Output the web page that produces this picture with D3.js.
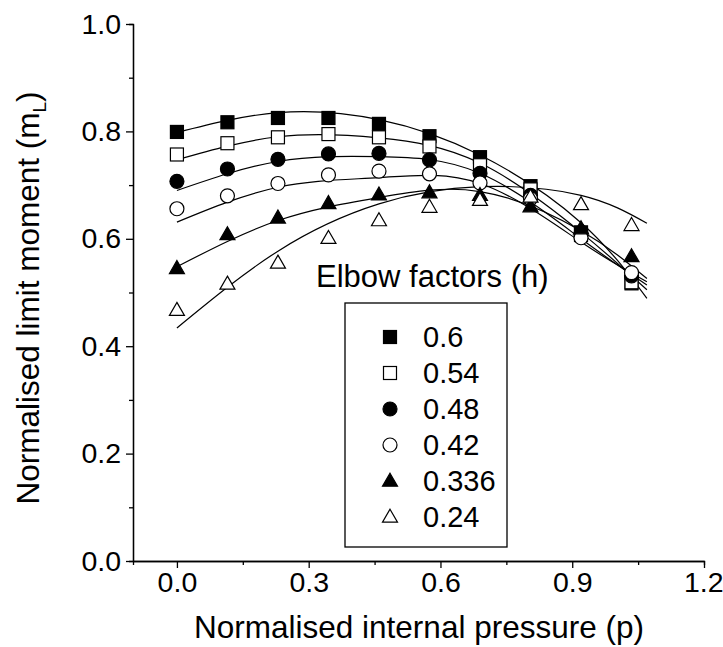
<!DOCTYPE html>
<html>
<head>
<meta charset="utf-8">
<script src="https://cdn.jsdelivr.net/npm/d3@7"></script>
<style>
  html, body { margin: 0; padding: 0; background: #fff; }
  svg { display: block; }
  text { font-family: "Liberation Sans", Arial, sans-serif; fill: #000; }
</style>
</head>
<body>
<svg id="chart" width="723" height="647"></svg>
<script>
// ---- data ----
const pressure = [0, 0.115, 0.23, 0.345, 0.46, 0.575, 0.69, 0.805, 0.92, 1.035];
const elbowFactors = ["0.6", "0.54", "0.48", "0.42", "0.336", "0.24"];
const markers = ["squareFilled", "squareOpen", "circleFilled", "circleOpen", "triangleFilled", "triangleOpen"];
const m060  = [0.799, 0.817, 0.825, 0.825, 0.814, 0.791, 0.752, 0.698, 0.612, 0.517];
const m054  = [0.757, 0.778, 0.789, 0.795, 0.789, 0.772, 0.737, 0.692, 0.607, 0.519];
const m048  = [0.707, 0.730, 0.748, 0.758, 0.759, 0.747, 0.722, 0.681, 0.610, 0.531];
const m042  = [0.656, 0.680, 0.703, 0.719, 0.726, 0.721, 0.704, 0.675, 0.602, 0.537];
const m0336 = [0.545, 0.608, 0.639, 0.666, 0.682, 0.686, 0.681, 0.660, 0.619, 0.567];
const m024  = [0.467, 0.516, 0.555, 0.601, 0.634, 0.659, 0.672, 0.678, 0.664, 0.625];
// fitted trend curves at these pressures
const fitPressure = [0, 0.23, 0.46, 0.69, 0.92, 1.07];
const fit060  = [0.798, 0.835, 0.822, 0.756, 0.630, 0.489];
const fit054  = [0.747, 0.790, 0.788, 0.741, 0.612, 0.505];
const fit048  = [0.690, 0.744, 0.753, 0.722, 0.600, 0.514];
const fit042  = [0.631, 0.696, 0.714, 0.703, 0.594, 0.520];
const fit0336 = [0.548, 0.634, 0.677, 0.688, 0.615, 0.526];
const fit024  = [0.434, 0.577, 0.665, 0.697, 0.681, 0.629];
const xMajorTicks = [0, 0.3, 0.6, 0.9, 1.2];
const xMinorTicks = [0.15, 0.45, 0.75, 1.05];
const yMajorTicks = [0, 0.2, 0.4, 0.6, 0.8, 1.0];
const yMinorTicks = [0.1, 0.3, 0.5, 0.7, 0.9];

const seriesValues = [m060, m054, m048, m042, m0336, m024];
const fitValues = [fit060, fit054, fit048, fit042, fit0336, fit024];

// ---- chart ----
const svg = d3.select("#chart");
const x = d3.scaleLinear().domain([-0.1, 1.2]).range([133, 704]);
const y = d3.scaleLinear().domain([0, 1.0]).range([561, 24]);
const TICK_FS = 28.5;
const LEG_FS = 29;
const TITLE_FS = 31.5;

function drawMarker(g, type, cx, cy) {
  const s = 13;
  if (type.startsWith("square")) {
    g.append("rect").attr("x", cx - s / 2).attr("y", cy - s / 2).attr("width", s).attr("height", s)
      .attr("fill", type.endsWith("Filled") ? "#000" : "#fff").attr("stroke", "#000").attr("stroke-width", 1.2);
  } else if (type.startsWith("circle")) {
    g.append("circle").attr("cx", cx).attr("cy", cy).attr("r", 7)
      .attr("fill", type.endsWith("Filled") ? "#000" : "#fff").attr("stroke", "#000").attr("stroke-width", 1.2);
  } else {
    const w = 15, h = 13;
    g.append("path")
      .attr("d", `M${cx},${cy - h * 0.6} L${cx + w / 2},${cy + h * 0.4} L${cx - w / 2},${cy + h * 0.4} Z`)
      .attr("fill", type.endsWith("Filled") ? "#000" : "#fff").attr("stroke", "#000").attr("stroke-width", 1.2)
      .attr("stroke-linejoin", "miter");
  }
}

// axes
const axisStyle = g => {
  g.select(".domain").attr("stroke", "#000").attr("stroke-width", 1.3);
  g.selectAll(".tick line").attr("stroke", "#000").attr("stroke-width", 1.3);
  g.selectAll("text").attr("font-size", TICK_FS).attr("font-family", '"Liberation Sans", Arial, sans-serif');
};

svg.append("g").attr("transform", `translate(0,${y(0)})`)
  .call(d3.axisBottom(x).tickValues(xMinorTicks).tickSize(4).tickFormat(""))
  .call(axisStyle);
const xAxisG = svg.append("g").attr("transform", `translate(0,${y(0)})`)
  .call(d3.axisBottom(x).tickValues(xMajorTicks).tickSize(7).tickSizeOuter(0).tickPadding(4).tickFormat(d3.format(".1f")))
  .call(axisStyle);
// keep the last label inside the window
xAxisG.selectAll(".tick text").filter(d => d === 1.2).attr("text-anchor", "end").attr("x", 19);
svg.append("g").attr("transform", `translate(${x(-0.1)},0)`)
  .call(d3.axisLeft(y).tickValues(yMinorTicks).tickSize(4).tickFormat(""))
  .call(axisStyle);
svg.append("g").attr("transform", `translate(${x(-0.1)},0)`)
  .call(d3.axisLeft(y).tickValues(yMajorTicks).tickSize(7).tickSizeOuter(0).tickPadding(5).tickFormat(d3.format(".1f")))
  .call(axisStyle);

// axis titles
svg.append("text").attr("x", 419).attr("y", 638).attr("text-anchor", "middle")
  .attr("font-size", TITLE_FS).text("Normalised internal pressure (p)");
const yt = svg.append("text").attr("transform", "translate(39,298) rotate(-90)")
  .attr("text-anchor", "middle").attr("font-size", TITLE_FS);
yt.append("tspan").text("Normalised limit moment (m");
yt.append("tspan").attr("font-size", 19).attr("dy", 7).text("L");
yt.append("tspan").attr("dy", -7).text(")");

// fit curves
const line = d3.line().x(d => x(d[0])).y(d => y(d[1])).curve(d3.curveNatural);
fitValues.forEach(vals => {
  svg.append("path").datum(fitPressure.map((p, i) => [p, vals[i]]))
    .attr("d", line).attr("fill", "none").attr("stroke", "#000").attr("stroke-width", 1.2);
});

// markers
seriesValues.forEach((vals, si) => {
  const g = svg.append("g");
  vals.forEach((v, i) => drawMarker(g, markers[si], x(pressure[i]), y(v)));
});

// legend
svg.append("text").attr("x", 316).attr("y", 287).attr("font-size", 31).text("Elbow factors (h)");
svg.append("rect").attr("x", 345).attr("y", 303).attr("width", 162).attr("height", 244)
  .attr("fill", "#fff").attr("stroke", "#000").attr("stroke-width", 1.3);
elbowFactors.forEach((lab, i) => {
  const cy = 337 + i * 36;
  const g = svg.append("g");
  drawMarker(g, markers[i], 390, cy);
  svg.append("text").attr("x", 423).attr("y", cy).attr("dy", "0.36em").attr("font-size", LEG_FS).text(lab);
});
</script>
</body>
</html>
